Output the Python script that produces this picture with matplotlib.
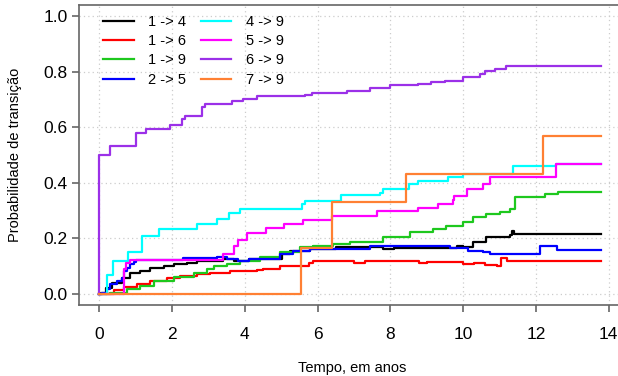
import matplotlib
matplotlib.use('Agg')
import matplotlib.pyplot as plt

plt.rcParams['font.family'] = ['Liberation Sans', 'DejaVu Sans']

# curvas de probabilidade de transição (tempo em anos)
t_14 = [0, 0.05, 0.17, 0.35, 0.62, 0.85, 1.12, 1.4, 1.77, 2.04, 2.41, 2.68, 3.4, 3.7, 4.1,
        5.01, 5.24, 5.8, 6.5, 7.8, 8.1, 9.82, 10.0, 10.27, 10.64, 11.28, 11.33, 11.4, 13.8]
p_14 = [0, 0.005, 0.02, 0.041, 0.057, 0.074, 0.081, 0.095, 0.1, 0.107, 0.113, 0.12, 0.125, 0.12, 0.126,
        0.144, 0.156, 0.162, 0.168, 0.16, 0.165, 0.174, 0.17, 0.186, 0.206, 0.212, 0.228, 0.216, 0.216]

t_16 = [0, 0.4, 0.67, 1.03, 1.4, 1.86, 2.22, 2.68, 3.05, 3.6, 4.33, 4.51, 4.97, 5.75, 5.88,
        7.0, 7.3, 8.8, 9.0, 10.0, 10.3, 10.6, 10.92, 11.03, 11.2, 13.8]
p_16 = [0, 0.013, 0.025, 0.037, 0.047, 0.057, 0.064, 0.071, 0.077, 0.081, 0.086, 0.09, 0.101, 0.11, 0.117,
        0.113, 0.117, 0.112, 0.116, 0.108, 0.113, 0.105, 0.099, 0.128, 0.12, 0.12]

t_19 = [0, 0.3, 0.76, 1.12, 1.49, 2.04, 2.59, 2.96, 3.14, 3.5, 3.87, 4.42, 4.97, 5.52, 5.88,
        6.43, 6.89, 7.8, 8.54, 9.18, 9.54, 10.0, 10.27, 10.64, 11.0, 11.28, 11.42, 12.24, 12.61, 13.8]
p_19 = [0, 0.005, 0.017, 0.029, 0.047, 0.062, 0.077, 0.089, 0.101, 0.107, 0.12, 0.134, 0.152, 0.168, 0.174,
        0.178, 0.188, 0.206, 0.222, 0.234, 0.246, 0.258, 0.277, 0.289, 0.295, 0.307, 0.349, 0.359, 0.366, 0.366]

t_25 = [0, 0.08, 0.21, 0.3, 0.48, 0.62, 0.67, 0.76, 0.83, 0.94, 1.0, 2.31, 3.23, 3.5, 3.8, 4.1,
        4.97, 5.33, 5.79, 7.44, 9.63, 10.14, 10.55, 10.73, 12.1, 12.59, 13.8]
p_25 = [0, 0.005, 0.017, 0.035, 0.047, 0.057, 0.083, 0.095, 0.107, 0.116, 0.122, 0.129, 0.134, 0.126, 0.12, 0.126,
        0.144, 0.153, 0.162, 0.174, 0.165, 0.156, 0.15, 0.144, 0.171, 0.158, 0.158]

t_49 = [0, 0.21, 0.37, 0.8, 1.17, 1.63, 2.68, 3.23, 3.55, 3.87, 5.56, 5.65, 6.63, 7.71, 7.8,
        8.5, 8.77, 9.59, 10.0, 11.37, 12.56, 13.8]
p_49 = [0, 0.068, 0.12, 0.152, 0.21, 0.234, 0.253, 0.271, 0.29, 0.307, 0.323, 0.335, 0.357, 0.364, 0.378,
        0.396, 0.407, 0.422, 0.433, 0.461, 0.466, 0.466]

t_59 = [0, 0.67, 0.74, 0.85, 3.41, 3.69, 3.8, 4.05, 4.58, 5.08, 5.61, 6.39, 7.62, 8.75, 9.31,
        9.72, 9.76, 10.12, 10.55, 10.73, 12.56, 13.8]
p_59 = [0, 0.09, 0.11, 0.123, 0.142, 0.172, 0.195, 0.22, 0.237, 0.253, 0.265, 0.281, 0.297, 0.31, 0.325,
        0.338, 0.353, 0.376, 0.397, 0.422, 0.466, 0.466]

t_69 = [0, 0, 0.3, 1.0, 1.29, 1.93, 2.27, 2.36, 2.82, 2.91, 3.64, 3.96, 4.33, 5.65, 5.84, 6.8,
        7.44, 7.99, 8.77, 9.13, 9.5, 10.0, 10.46, 10.6, 10.87, 11.19, 13.8]
p_69 = [0, 0.5, 0.534, 0.58, 0.595, 0.607, 0.629, 0.641, 0.673, 0.685, 0.693, 0.702, 0.711, 0.716, 0.723, 0.732,
        0.742, 0.751, 0.757, 0.762, 0.768, 0.781, 0.793, 0.803, 0.81, 0.819, 0.819]

t_79 = [0, 5.55, 6.4, 8.43, 12.2, 13.8]
p_79 = [0, 0.164, 0.331, 0.43, 0.569, 0.569]

series = [
    ('1 -> 4', t_14, p_14, 'black'),
    ('1 -> 6', t_16, p_16, '#FF0000'),
    ('1 -> 9', t_19, p_19, '#1EC81E'),
    ('2 -> 5', t_25, p_25, '#0000FF'),
    ('4 -> 9', t_49, p_49, '#00FFFF'),
    ('5 -> 9', t_59, p_59, '#FF00FF'),
    ('6 -> 9', t_69, p_69, '#9B30E8'),
    ('7 -> 9', t_79, p_79, '#FF8033'),
]

W, H = 618, 376
fig = plt.figure(figsize=(W / 100, H / 100), dpi=100)
# eixo x vai além da borda direita (figura recortada)
ax = fig.add_axes([79 / W, 71 / H, 550 / W, 300 / H])

for lab, t, p, c in series:
    ax.step(t, p, where='post', color=c, lw=1.6, label=lab)

ax.set_xlim(-0.56, 14.56)
ax.set_ylim(-0.04, 1.04)
ax.set_xticks(range(0, 15, 2))
ax.set_yticks([0, 0.2, 0.4, 0.6, 0.8, 1.0])
ax.set_yticklabels(['0.0', '0.2', '0.4', '0.6', '0.8', '1.0'])
ax.grid(True, color='#cccccc', ls=(0, (1, 2.5)), lw=0.9)
ax.set_axisbelow(True)

for s in ['left', 'bottom', 'top']:
    ax.spines[s].set_color('#666666')
    ax.spines[s].set_linewidth(1.2)
ax.spines['right'].set_visible(False)
ax.tick_params(axis='x', length=5, width=1.2, color='#666666', pad=11, labelsize=12.5)
ax.tick_params(axis='y', length=5, width=1.2, color='#666666', pad=3, labelsize=12.5)

fig.text(15 / W, 1 - 155 / H, 'Probabilidade de transição', rotation=90,
         ha='center', va='center', fontsize=10.5)
fig.text(352 / W, 1 - 361 / H, 'Tempo, em anos', ha='center', va='top', fontsize=10.5)

ax.legend(ncol=2, frameon=False, loc='upper left', fontsize=10.5,
          bbox_to_anchor=(103 / W, 1 - 15 / H), bbox_transform=fig.transFigure,
          borderpad=0, borderaxespad=0, handlelength=2.1, handletextpad=1.0,
          columnspacing=1.0, labelspacing=0.36)

fig.savefig('out.png', dpi=100)
